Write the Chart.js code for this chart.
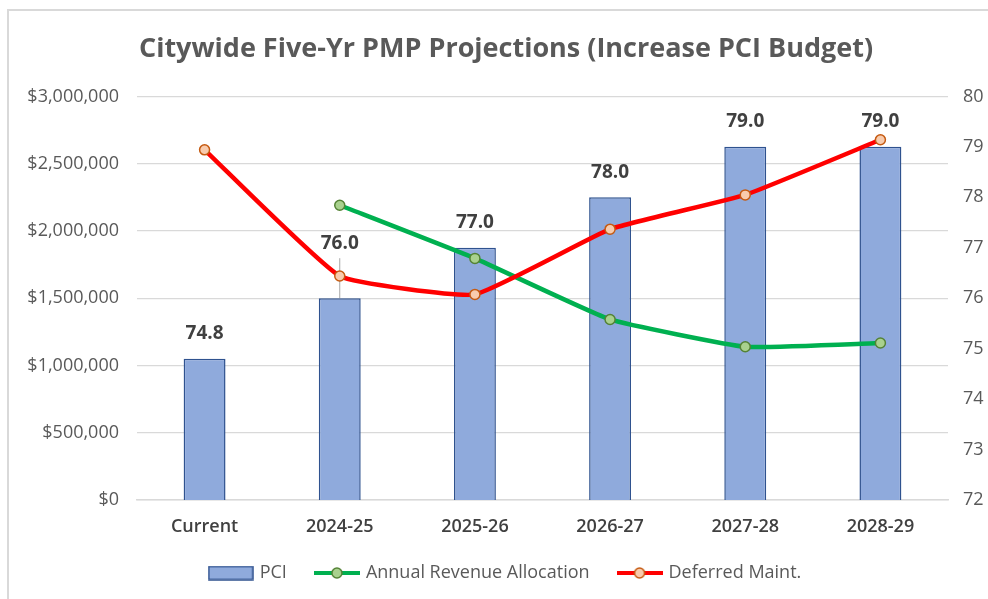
<!DOCTYPE html>
<html>
<head>
<meta charset="utf-8">
<script src="https://cdn.jsdelivr.net/npm/chart.js@4.4.1/dist/chart.umd.min.js"></script>
<style>
  html, body { margin: 0; padding: 0; background: #fff; }
  #wrap { width: 988px; height: 599px; position: relative; }
</style>
</head>
<body>
<div id="wrap"><canvas id="c" width="988" height="599"></canvas></div>
<script>
/* ---------- Data ---------- */

const categories = ["Current", "2024-25", "2025-26", "2026-27", "2027-28", "2028-29"];
const pci = [74.8, 76.0, 77.0, 78.0, 79.0, 79.0];
const revenue = [null, 2191000, 1796000, 1342000, 1139000, 1167000];
const deferred = [2603000, 1665000, 1528000, 2013000, 2268000, 2678000];

const dollarMin = 0, dollarMax = 3000000, dollarStep = 500000;
const pciMin = 72, pciMax = 80, pciStep = 1;

// label for 2024-25 was dragged up in the original, with a leader line
const labelLift = [0, 30, 0, 0, 0, 0];

/* ---------- Style ---------- */

const FONT = "'Open Sans', 'Noto Sans', sans-serif";
Chart.defaults.font.family = FONT;

const C = {
    barFill: "#8FAADC",
    barEdge: "#2F528F",
    green: "#00B050",
    greenDot: "#A9D18E",
    greenDotEdge: "#548235",
    red: "#FF0000",
    redDot: "#F8CBAD",
    redDotEdge: "#C55A11",
    grid: "#D9D9D9",
    text: "#595959",
    dark: "#404040"
};

/* ---------- Legend icons ---------- */

function lineIcon(color, dot, dotEdge) {
    const c = document.createElement("canvas");
    c.width = 46; c.height = 14;
    const g = c.getContext("2d");
    g.strokeStyle = color; g.lineWidth = 4;
    g.beginPath(); g.moveTo(0, 7); g.lineTo(46, 7); g.stroke();
    g.fillStyle = dot; g.strokeStyle = dotEdge; g.lineWidth = 1.5;
    g.beginPath(); g.arc(23, 7, 5, 0, Math.PI * 2); g.fill(); g.stroke();
    return c;
}

function boxIcon() {
    const c = document.createElement("canvas");
    c.width = 46; c.height = 15;
    const g = c.getContext("2d");
    g.fillStyle = C.barFill; g.fillRect(1, 1, 44, 13);
    g.strokeStyle = C.barEdge; g.lineWidth = 1.5; g.strokeRect(1, 1, 44, 13);
    return c;
}

const icons = [boxIcon(), lineIcon(C.green, C.greenDot, C.greenDotEdge), lineIcon(C.red, C.redDot, C.redDotEdge)];

/* ---------- Plugins ---------- */

const frame = {
    id: "frame",
    beforeDraw(chart) {
        const ctx = chart.ctx;
        ctx.save();
        ctx.fillStyle = "#fff";
        ctx.fillRect(0, 0, chart.width, chart.height);
        ctx.strokeStyle = C.grid;
        ctx.lineWidth = 2;
        ctx.beginPath();
        ctx.moveTo(8, chart.height);
        ctx.lineTo(8, 10);
        ctx.lineTo(chart.width, 10);
        ctx.stroke();
        ctx.restore();
    }
};

const barLabels = {
    id: "barLabels",
    beforeDatasetsDraw(chart) {
        const ctx = chart.ctx;
        const meta = chart.getDatasetMeta(0);
        ctx.save();
        ctx.strokeStyle = "#A6A6A6";
        ctx.lineWidth = 1;
        meta.data.forEach((bar, i) => {
            if (!labelLift[i]) return;
            const y = bar.y - 24 - labelLift[i];
            ctx.beginPath();
            ctx.moveTo(bar.x, bar.y);
            ctx.lineTo(bar.x, y + 14);
            ctx.stroke();
        });
        ctx.restore();
    },
    afterDatasetsDraw(chart) {
        const ctx = chart.ctx;
        const meta = chart.getDatasetMeta(0);
        ctx.save();
        ctx.font = "bold 19px " + FONT;
        ctx.fillStyle = C.dark;
        ctx.textAlign = "center";
        ctx.textBaseline = "middle";
        meta.data.forEach((bar, i) => {
            ctx.fillText(pci[i].toFixed(1), bar.x, bar.y - 25 - labelLift[i]);
        });
        ctx.restore();
    }
};

/* ---------- Chart ---------- */

new Chart(document.getElementById("c"), {
    type: "bar",
    data: {
        labels: categories,
        datasets: [
            {
                label: "PCI",
                data: pci,
                yAxisID: "y2",
                backgroundColor: C.barFill,
                borderColor: C.barEdge,
                borderWidth: 1.5,
                barPercentage: 0.31,
                categoryPercentage: 1,
                order: 2
            },
            {
                type: "line",
                label: "Annual Revenue Allocation",
                data: revenue,
                yAxisID: "y",
                borderColor: C.green,
                borderWidth: 4.5,
                tension: 0.12,
                pointRadius: 5,
                pointBorderWidth: 1.5,
                pointBackgroundColor: C.greenDot,
                pointBorderColor: C.greenDotEdge,
                order: 1
            },
            {
                type: "line",
                label: "Deferred Maint.",
                data: deferred,
                yAxisID: "y",
                borderColor: C.red,
                borderWidth: 4.5,
                tension: 0.12,
                pointRadius: 5,
                pointBorderWidth: 1.5,
                pointBackgroundColor: C.redDot,
                pointBorderColor: C.redDotEdge,
                order: 0
            }
        ]
    },
    options: {
        responsive: false,
        animation: false,
        layout: { padding: { left: 24, right: 0, top: 0, bottom: 7 } },
        plugins: {
            title: {
                display: true,
                text: "Citywide Five-Yr PMP Projections (Increase PCI Budget)",
                color: C.text,
                font: { size: 27, weight: "bold" },
                padding: { top: 33, bottom: 31 }
            },
            legend: {
                position: "bottom",
                labels: {
                    usePointStyle: true,
                    pointStyleWidth: 40,
                    boxHeight: 15,
                    padding: 30,
                    color: C.text,
                    font: { size: 18 },
                    generateLabels: chart => chart.data.datasets.map((ds, i) => ({
                        text: ds.label,
                        pointStyle: icons[i],
                        fontColor: C.text,
                        datasetIndex: i,
                        hidden: false,
                        lineWidth: 0
                    }))
                }
            },
            tooltip: { enabled: false }
        },
        scales: {
            x: {
                grid: { display: false },
                border: { color: C.grid, width: 1.5 },
                ticks: { padding: 8, color: C.dark, font: { size: 18, weight: "600" } },
                afterFit: s => { s.height = 34; }
            },
            y: {
                position: "left",
                min: dollarMin,
                max: dollarMax,
                grid: { color: C.grid, lineWidth: 1.3, drawTicks: false },
                border: { display: false },
                ticks: {
                    stepSize: dollarStep,
                    padding: 18,
                    color: C.text,
                    font: { size: 18 },
                    callback: v => "$" + v.toLocaleString("en-US")
                },
                afterFit: s => { s.width = 113; }
            },
            y2: {
                position: "right",
                min: pciMin,
                max: pciMax,
                grid: { display: false, drawTicks: false },
                border: { display: false },
                ticks: { stepSize: pciStep, padding: 15, color: C.text, font: { size: 18 } },
                afterFit: s => { s.width = 40; }
            }
        }
    },
    plugins: [frame, barLabels]
});
</script>
</body>
</html>
